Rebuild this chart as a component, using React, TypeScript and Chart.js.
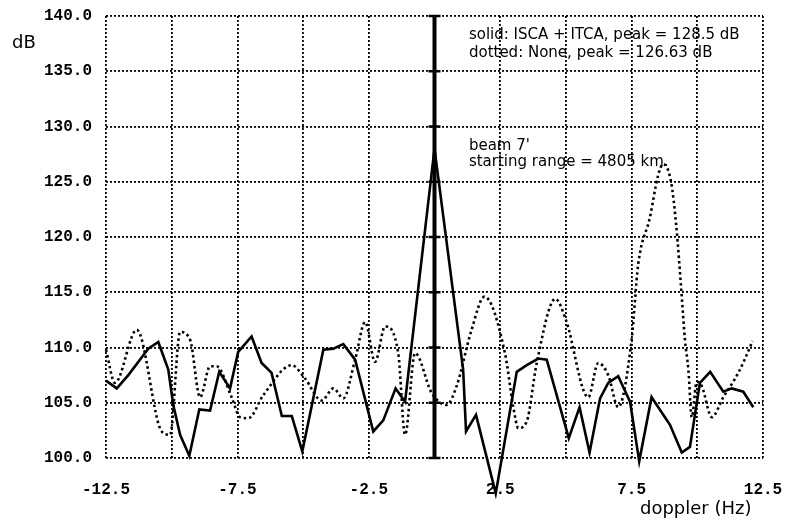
import React, { useEffect, useRef } from "react";
import { Chart, registerables } from "chart.js";

Chart.register(...registerables);

// Solid series: ISCA + ITCA
const solidX = [
  -12.5, -12.09, -11.65, -11.08, -10.89, -10.51, -10.13, -9.94, -9.68, -9.33,
  -8.95, -8.54, -8.19, -7.78, -7.47, -6.96, -6.58, -6.45, -6.2, -5.81,
  -5.43, -5.03, -4.23, -3.85, -3.47, -3.02, -2.33, -1.95, -1.48, -1.12,
  0.0, 1.09, 1.2, 1.58, 2.33, 3.13, 3.51, 3.95, 4.27, 5.11,
  5.52, 5.9, 6.3, 6.61, 6.99, 7.44, 7.79, 8.26, 8.96, 9.41,
  9.72, 10.1, 10.49, 10.99, 11.31, 11.75, 12.13,
];
const solidY = [
  107.0, 106.3, 107.5, 109.3, 109.9, 110.5, 108.0, 104.8, 102.1, 100.2,
  104.4, 104.3, 107.8, 106.3, 109.6, 111.0, 108.6, 108.3, 107.7, 103.8,
  103.8, 100.6, 109.8, 109.9, 110.3, 108.9, 102.4, 103.4, 106.3, 105.1,
  128.0, 108.0, 102.4, 103.9, 96.8, 107.8, 108.4, 109.0, 108.9, 101.8,
  104.6, 100.5, 105.4, 106.8, 107.4, 105.1, 99.7, 105.5, 103.0, 100.5,
  101.0, 106.8, 107.8, 106.0, 106.3, 106.0, 104.6,
];

// Dotted series: None
const dottedX = [
  -12.5, -12.16, -11.33, -10.38, -10.06, -9.68, -9.3, -8.92, -8.54, -8.29,
  -7.72, -7.4, -7.08, -6.51, -5.43, -4.93, -4.29, -3.85, -3.47, -3.02,
  -2.64, -2.26, -1.88, -1.38, -1.12, -0.74, -0.11, 0.46, 0.84, 1.41,
  1.9, 2.68, 3.0, 3.19, 3.51, 3.89, 4.6, 5.0, 5.85, 6.23,
  6.61, 6.99, 7.5, 7.75, 8.2, 8.5, 8.7, 9.0, 9.2, 9.4,
  9.53, 9.66, 9.79, 9.98, 10.17, 10.55, 10.99, 11.56, 12.0, 12.1,
];
const dottedY = [
  109.8, 106.8, 111.6, 102.4, 102.1, 111.4, 110.7, 105.5, 108.3, 108.3,
  105.5, 103.7, 103.6, 105.7, 108.4, 107.2, 105.2, 106.3, 105.4, 108.9,
  112.3, 108.7, 111.9, 109.5, 102.1, 109.5, 105.9, 104.8, 106.5, 111.6,
  114.6, 109.5, 104.6, 102.7, 103.3, 108.6, 114.4, 112.5, 105.5, 108.6,
  107.5, 104.6, 110.7, 117.5, 121.8, 125.5, 126.6, 125.0, 121.0, 114.9,
  110.7, 108.0, 103.7, 106.9, 106.5, 103.7, 105.5, 107.7, 110.0, 110.6,
];

// Thick vertical axis at zero doppler, with tick marks
const centerLineX = [0, 0];
const centerLineY = [100, 140];
const centerTickY = [100, 105, 110, 115, 120, 125, 130, 135, 140];

// Axes
const xMin = -12.5;
const xMax = 12.5;
const xStep = 2.5;
const yMin = 100;
const yMax = 140;
const yStep = 5;
const xTitle = "doppler (Hz)";
const yTitle = "dB";

// Annotation texts (anchored in data coordinates)
const noteText = [
  "solid: ISCA + ITCA, peak = 128.5 dB",
  "dotted: None, peak = 126.63 dB",
  "beam 7'",
  "starting range = 4805 km.",
];
const noteX = [1.31, 1.31, 1.31, 1.31];
const noteY = [138.3, 136.65, 128.2, 126.75];

export default function App() {
  const ref = useRef<HTMLCanvasElement | null>(null);

  useEffect(() => {
    const canvas = ref.current;
    if (!canvas) return;

    const textPlugin = {
      id: "texts",
      afterDatasetsDraw(chart: any) {
        const { ctx, scales } = chart;
        const xs = scales.x;
        const ys = scales.y;
        ctx.save();
        ctx.fillStyle = "#000";
        ctx.textAlign = "left";
        ctx.textBaseline = "middle";
        ctx.font = '15px "DejaVu Sans"';
        noteText.forEach((t, i) => {
          ctx.fillText(t, xs.getPixelForValue(noteX[i]), ys.getPixelForValue(noteY[i]));
        });
        ctx.font = '18px "DejaVu Sans"';
        ctx.fillText(yTitle, 12, 43);
        ctx.fillText(xTitle, 640, 509);
        ctx.restore();
      },
    };

    const tickFont = { family: '"Liberation Mono"', size: 16, weight: "bold" as const };

    const chart = new Chart(canvas, {
      type: "line",
      data: {
        datasets: [
          {
            label: "center",
            data: centerLineX.map((x, i) => ({ x, y: centerLineY[i] })),
            borderColor: "#000",
            borderWidth: 4,
            pointRadius: 0,
            clip: false,
          } as any,
          {
            label: "centerTicks",
            data: centerTickY.map((y) => ({ x: 0, y })),
            showLine: false,
            pointStyle: "line",
            pointRadius: 6,
            pointBorderWidth: 2.5,
            pointBorderColor: "#000",
            borderColor: "#000",
            clip: false,
          } as any,
          {
            label: "dotted",
            data: dottedX.map((x, i) => ({ x, y: dottedY[i] })),
            borderColor: "#000",
            borderWidth: 2.6,
            borderDash: [2.5, 3],
            pointRadius: 0,
            tension: 0.4,
            cubicInterpolationMode: "monotone",
            clip: false,
          } as any,
          {
            label: "solid",
            data: solidX.map((x, i) => ({ x, y: solidY[i] })),
            borderColor: "#000",
            borderWidth: 2.6,
            pointRadius: 0,
            tension: 0,
            clip: false,
          } as any,
        ],
      },
      options: {
        responsive: false,
        animation: false,
        events: [],
        layout: { padding: { top: 16, right: 23, left: 0, bottom: 0 } },
        plugins: {
          legend: { display: false },
          tooltip: { enabled: false },
        },
        scales: {
          x: {
            type: "linear",
            min: xMin,
            max: xMax,
            ticks: {
              stepSize: xStep,
              autoSkip: false,
              maxRotation: 0,
              padding: 22,
              color: "#000",
              font: tickFont,
              callback: (v: any) => {
                const k = Math.round(Number(v) / xStep);
                return Math.abs(k) % 2 === 1 ? Number(v).toFixed(1) : "";
              },
            },
            grid: { color: "#000", lineWidth: 1.8, drawTicks: false },
            border: { display: false, dash: [2, 2] },
            afterFit: (s: any) => {
              s.height = 65;
              s.paddingLeft = 0;
              s.paddingRight = 0;
            },
          },
          y: {
            type: "linear",
            min: yMin,
            max: yMax,
            ticks: {
              stepSize: yStep,
              padding: 14,
              color: "#000",
              font: tickFont,
              callback: (v: any) => Number(v).toFixed(1),
            },
            grid: { color: "#000", lineWidth: 1.8, drawTicks: false },
            border: { display: false, dash: [2, 2] },
            afterFit: (s: any) => {
              s.width = 106;
              s.paddingTop = 0;
              s.paddingBottom = 0;
            },
          },
        },
      } as any,
      plugins: [textPlugin],
    });

    return () => chart.destroy();
  }, []);

  return (
    <div style={{ position: "fixed", left: 0, top: 0, width: 786, height: 523, background: "#fff" }}>
      <canvas ref={ref} width={786} height={523} style={{ width: 786, height: 523, display: "block" }} />
    </div>
  );
}
